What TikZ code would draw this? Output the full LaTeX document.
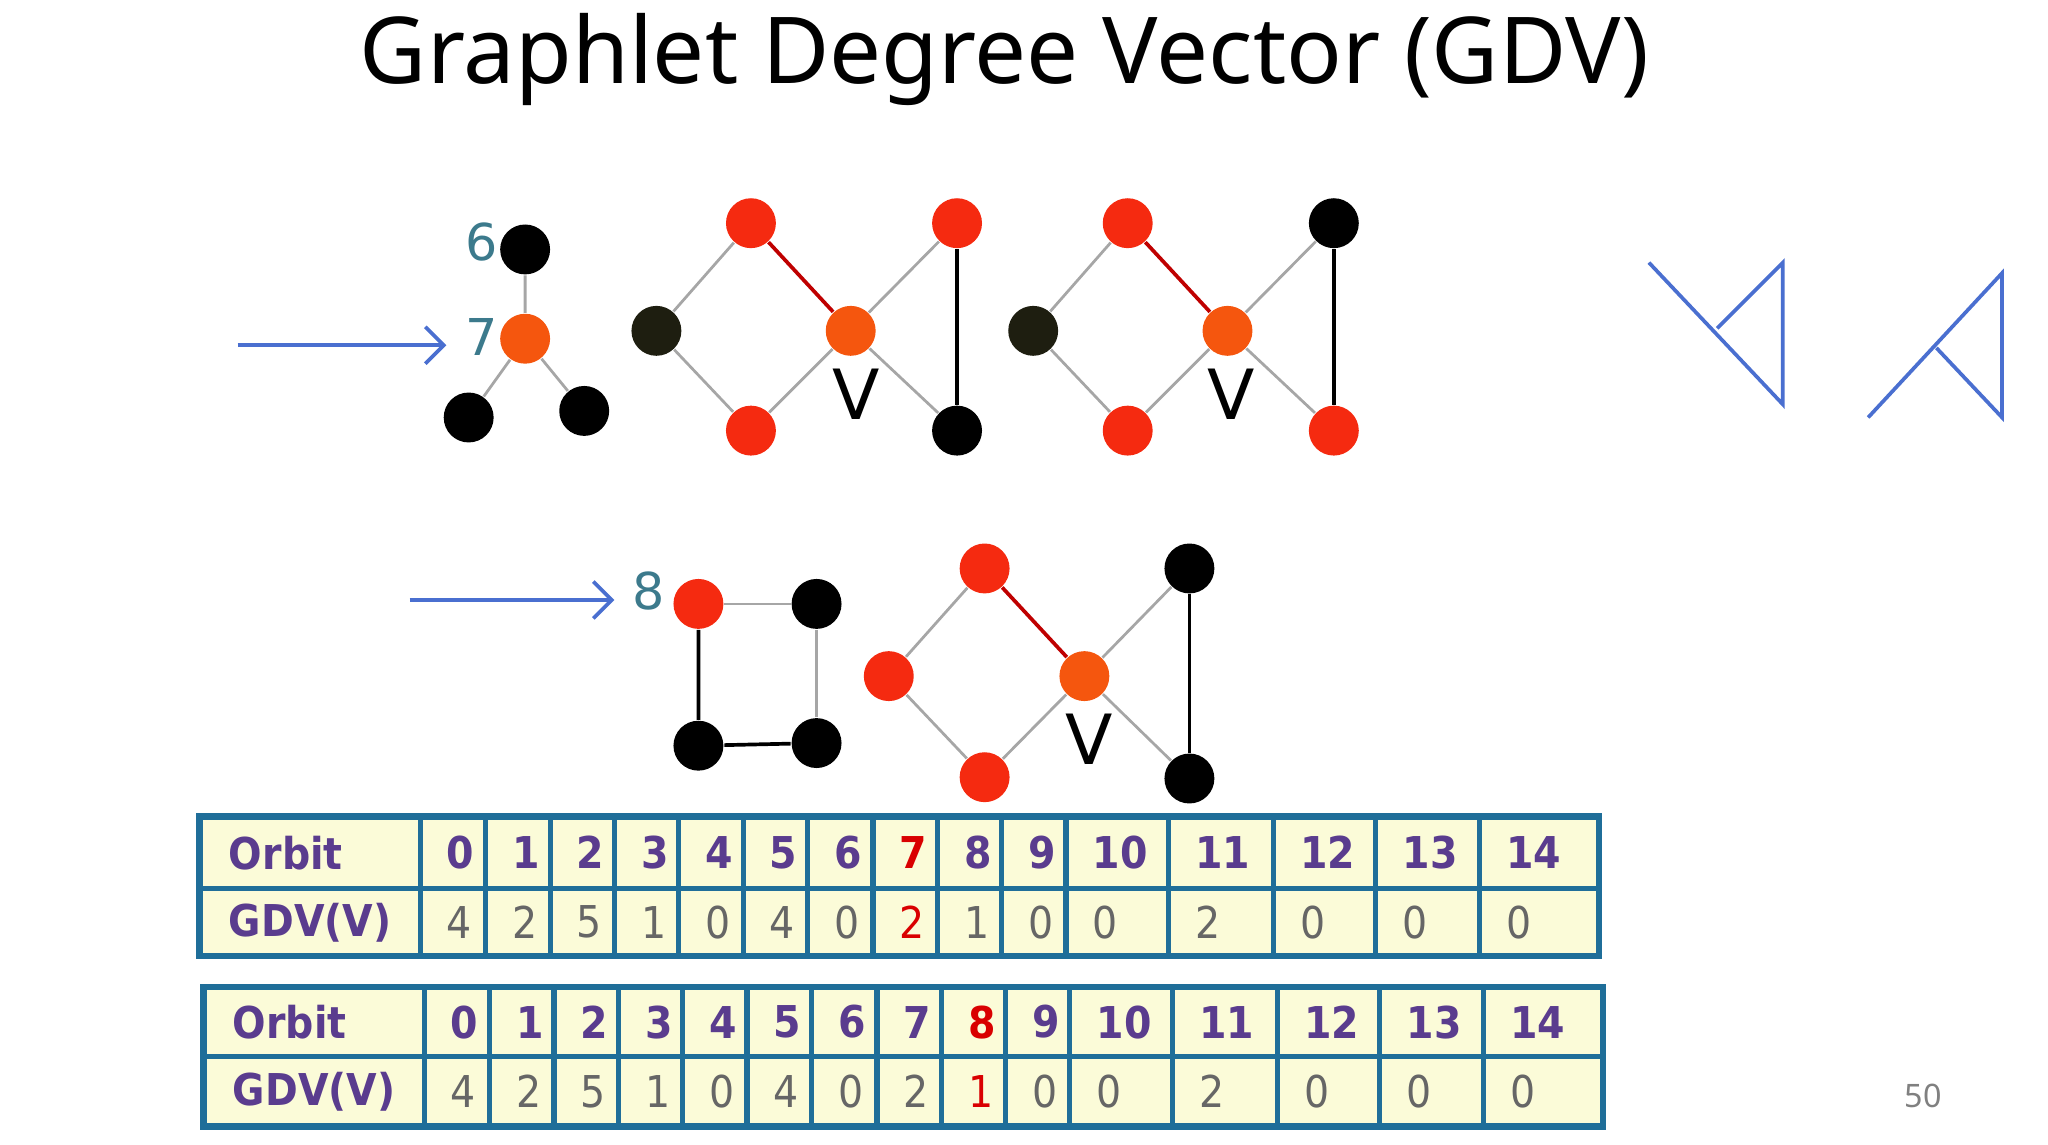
\documentclass[tikz,border=0pt]{standalone}
\usepackage{fontspec}
\setmainfont{DejaVu Sans}
\newfontfamily\condfont{DejaVu Sans Condensed}
\newfontfamily\titlefont{Noto Sans}
\usetikzlibrary{arrows.meta}
\definecolor{nred}{HTML}{F52A10}
\definecolor{norange}{HTML}{F5560E}
\definecolor{ndark}{HTML}{1E1E10}
\definecolor{tabline}{HTML}{1F6E99}
\definecolor{tabfill}{HTML}{FBFBD8}
\definecolor{purp}{HTML}{5A3C8E}
\definecolor{lbl}{HTML}{3C7A8C}
\definecolor{arr}{HTML}{4A6FD0}
\begin{document}
\begin{tikzpicture}[x=0.01cm,y=-0.01cm,
  vtx/.style={circle,minimum size=0.38cm,inner sep=0pt},
  rv/.style={vtx,fill=nred}, ov/.style={vtx,fill=norange}, bv/.style={vtx,fill=black}, dv/.style={vtx,fill=ndark},
  ge/.style={draw=gray!70,line width=0.6pt}, re/.style={draw=red!75!black,line width=0.8pt}, be/.style={draw=black,line width=0.8pt},
  lab/.style={text=lbl,font=\fontsize{11}{11}\selectfont},
  vlab/.style={font=\fontsize{15}{15}\selectfont},
  bluearr/.style={draw=arr,line width=0.8pt,-{Straight Barb[length=4pt,width=8pt]}},
  shp/.style={draw=arr,line width=0.8pt},
  hd/.style={text=purp,font=\condfont\bfseries\fontsize{9.5}{9.5}\selectfont},
  vl/.style={text=gray!80!black,font=\condfont\fontsize{9.5}{9.5}\selectfont}]
\useasboundingbox (0,0) rectangle (1560,872);
\node[font=\titlefont\fontsize{20}{21}\selectfont] (title) at (765,45) {Graphlet Degree Vector (GDV)};
% graph A
\node[bv] (a6) at (400,190) {}; \node[ov] (a7) at (400,258) {};
\node[bv] (a1) at (357,318) {}; \node[bv] (a2) at (445,313) {};
\draw[ge] (a6)--(a7) (a7)--(a1) (a7)--(a2);
\node[lab] (l6) at (367,184) {6}; \node[lab] (l7) at (367,257) {7};
\coordinate (s1) at (181,263); \coordinate (e1) at (340,263);
\draw[bluearr] (s1)--(e1);
% graph B
\foreach \p/\dx in {B/0,C/287}{
\node[rv] (\p t) at (572+\dx,170) {};
\node[dv] (\p l) at (500+\dx,252) {};
\node[ov] (\p v) at (648+\dx,252) {};
\node[rv] (\p b) at (572+\dx,328) {};
}
\node[rv] (Bx) at (729,170) {}; \node[bv] (By) at (729,328) {};
\node[bv] (Cx) at (1016,170) {}; \node[rv] (Cy) at (1016,328) {};
\foreach \p in {B,C}{
\draw[ge] (\p t)--(\p l) (\p l)--(\p b) (\p b)--(\p v) (\p v)--(\p x) (\p v)--(\p y);
\draw[re] (\p t)--(\p v);
\draw[be] (\p x)--(\p y);
}
\node[vlab] (vB) at (652,300) {V}; \node[vlab] (vC) at (938,300) {V};
% bottom
\coordinate (s2) at (312,457); \coordinate (e2) at (468,457);
\draw[bluearr] (s2)--(e2);
\node[lab] (l8) at (494,450) {8};
\node[rv] (q1) at (532,460) {}; \node[bv] (q2) at (622,460) {};
\node[bv] (q3) at (532,568) {}; \node[bv] (q4) at (622,566) {};
\draw[ge] (q1)--(q2) (q2)--(q4); \draw[be] (q1)--(q3) (q3)--(q4);
\node[rv] (Dt) at (750,433) {}; \node[rv] (Dl) at (677,515) {};
\node[ov] (Dv) at (826,515) {}; \node[rv] (Db) at (750,592) {};
\node[bv] (Dx) at (906,433) {}; \node[bv] (Dy) at (906,593) {};
\draw[ge] (Dt)--(Dl) (Dl)--(Db) (Db)--(Dv) (Dv)--(Dx) (Dv)--(Dy);
\draw[re] (Dt)--(Dv); \draw[be] (Dx)--(Dy);
\node[vlab] (vD) at (830,563) {V};
% right shapes
\draw[shp] (1256,200)--(1358,308)--(1358,200)--(1308,250);
\draw[shp] (1423,318)--(1525,208)--(1525,318)--(1475,265);
% tables
\foreach \dx/\top/\mid/\bot/\red in {0/622/677/728/7,3/752/805/858/8}{
\fill[tabfill] (152+\dx,\top) rectangle (1218+\dx,\bot);
\node[hd,anchor=west] at (162+\dx,{(\top+\mid)/2}) {Orbit};
\node[hd,anchor=west] at (162+\dx,{(\mid+\bot)/2}) {GDV(V)};
\foreach \l/\r [count=\i from 0] in {320/370,370/419,419/468,468/517,517/566,566/615,615/665,665/714,714/763,763/812,812/890,890/970,970/1048,1048/1127,1127/1218}{
\ifnum\i=\red
\node[hd,text=red!85!black,anchor=west] at (\l+\dx+8,{(\top+\mid)/2}) {\i};
\else
\node[hd,anchor=west] at (\l+\dx+8,{(\top+\mid)/2}) {\i};
\fi
\draw[tabline,line width=1.1pt] (\l+\dx,\top)--(\l+\dx,\bot);
}
\draw[tabline,line width=1.4pt] (152+\dx,\top) rectangle (1218+\dx,\bot);
\draw[tabline,line width=1.1pt] (152+\dx,\mid)--(1218+\dx,\mid);
\foreach \x/\v [count=\i from 0] in {320/4,370/2,419/5,468/1,517/0,566/4,615/0,665/2,714/1,763/0,812/0,890/2,970/0,1048/0,1127/0}{
\ifnum\i=\red
\node[vl,text=red!85!black,anchor=west] at (\x+\dx+8,{(\mid+\bot)/2}) {\v};
\else
\node[vl,anchor=west] at (\x+\dx+8,{(\mid+\bot)/2}) {\v};
\fi
}
}
\node[text=gray,font=\titlefont\fontsize{7}{7}\selectfont] (pg) at (1465,835) {50};
\end{tikzpicture}
\end{document}
